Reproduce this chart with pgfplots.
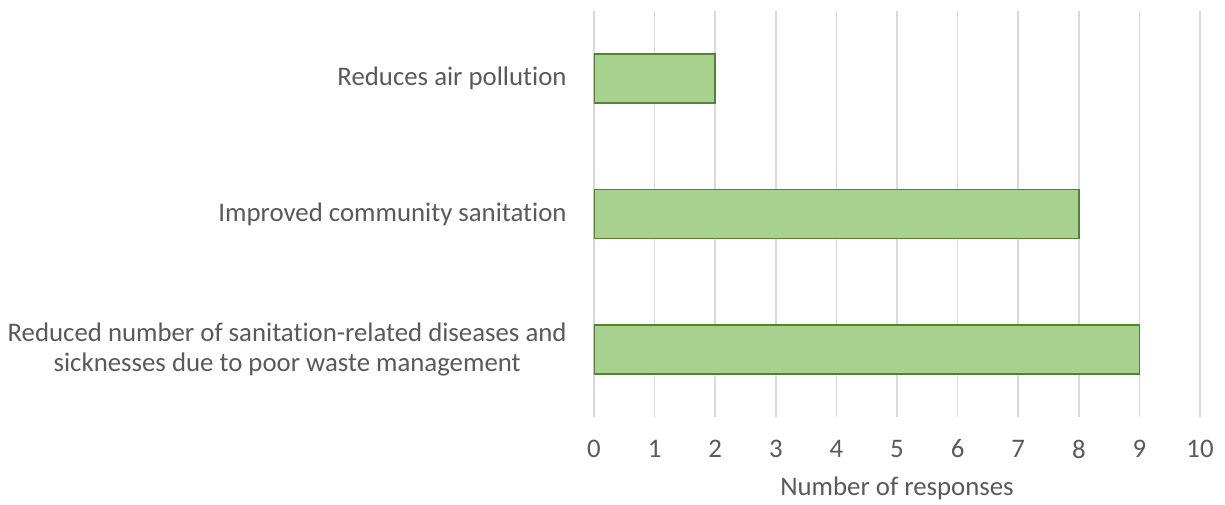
\documentclass[border=0pt]{standalone}
\usepackage{fontspec}
\setmainfont{Carlito}[Ligatures=NoCommon]
\usepackage{pgfplots}
\pgfplotsset{compat=1.18}
\definecolor{barfill}{HTML}{A9D18E}
\definecolor{baredge}{HTML}{548235}
\definecolor{txt}{HTML}{595959}
\definecolor{gridc}{HTML}{D9D9D9}
\begin{document}
\begin{tikzpicture}[x=1pt,y=1pt]
\useasboundingbox (-297,-43.5) rectangle (315.5,208.5);
\begin{axis}[
  scale only axis,
  width=303pt, height=203pt,
  xbar, bar width=24.5pt,
  xmin=0, xmax=10, ymin=-0.5, ymax=2.5,
  xtick={0,1,...,10},
  ytick={0,1,2},
  yticklabels={{Reduced number of sanitation-related diseases and\\sicknesses due to poor waste management},
               {Improved community sanitation},
               {Reduces air pollution}},
  axis line style={draw=none},
  major tick length=0pt,
  xmajorgrids,
  grid style={gridc, line width=0.8pt},
  font=\fontsize{13.4}{15.3}\selectfont\color{txt},
  /pgf/number format/assume math mode=true,
  xticklabel style={anchor=center, yshift=-16pt, inner sep=0pt},
  yticklabel style={anchor=east, align=center, inner sep=0pt, xshift=-13.5pt},
  xlabel={Number of responses},
  xlabel style={at={(axis description cs:0.5,0)}, anchor=center, yshift=-35.5pt, inner sep=0pt},
]
\addplot[fill=barfill, draw=baredge, line width=0.8pt] coordinates {(9,0) (8,1) (2,2)};
\end{axis}
\end{tikzpicture}
\end{document}
